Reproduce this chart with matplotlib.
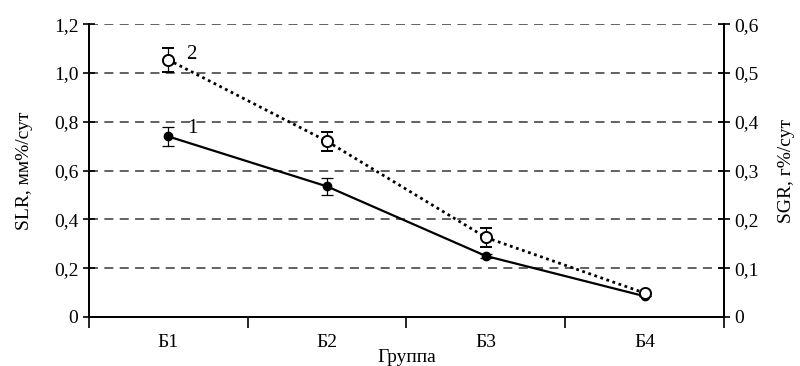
import matplotlib

matplotlib.use("Agg")

import matplotlib.pyplot as plt

plt.rcParams["font.family"] = ["Liberation Serif", "DejaVu Serif"]

groups = ["Б1", "Б2", "Б3", "Б4"]
slr = [0.74, 0.535, 0.25, 0.085]
slr_err = [0.04, 0.035, 0.01, 0.0]
sgr = [0.527, 0.36, 0.163, 0.049]
sgr_err = [0.025, 0.02, 0.02, 0.0]

fig = plt.figure(figsize=(8.0, 3.66), dpi=100)
ax = fig.add_axes([0.111, 0.134, 0.794, 0.800])
ax2 = ax.twinx()

x = list(range(len(groups)))

ax.set_ylim(0, 1.2)
ax.set_yticks([0, 0.2, 0.4, 0.6, 0.8, 1.0, 1.2])
ax.set_yticklabels(["0", "0,2", "0,4", "0,6", "0,8", "1,0", "1,2"])
ax.set_xlim(-0.5, len(groups) - 0.5)
ax.set_xticks(x)
ax.set_xticklabels(groups)
ax.set_xticks([i - 0.5 for i in range(len(groups) + 1)], minor=True)
ax.tick_params(axis="x", which="major", length=0, labelsize=14, pad=12)
ax.tick_params(axis="x", which="minor", length=8, width=1.2, direction="out")
ax.tick_params(axis="y", direction="inout", length=9, width=1.2, labelsize=14, pad=3)
for yv in [0.2, 0.4, 0.6, 0.8, 1.0, 1.2]:
    ax.axhline(yv, color="#555555", lw=1.3, ls=(0, (5, 3.5)), zorder=0)

ax2.set_ylim(0, 0.6)
ax2.set_yticks([0, 0.1, 0.2, 0.3, 0.4, 0.5, 0.6])
ax2.set_yticklabels(["0", "0,1", "0,2", "0,3", "0,4", "0,5", "0,6"])
ax2.tick_params(axis="y", direction="inout", length=9, width=1.2, labelsize=14, pad=3)

for a in (ax, ax2):
    a.spines["top"].set_visible(False)
    a.spines["left"].set_linewidth(1.3)
    a.spines["right"].set_linewidth(1.3)
    a.spines["bottom"].set_linewidth(1.3)

ax.errorbar(x, slr, yerr=slr_err, color="black", lw=1.6, marker="o", ms=6,
            capsize=4, elinewidth=0.9, capthick=0.9, zorder=3)
ax2.errorbar(x, sgr, yerr=sgr_err, color="black", lw=2.0, ls=(0, (1, 1.3)),
             marker="o", ms=8, mfc="white", mec="black", mew=1.4,
             capsize=4, elinewidth=0.9, capthick=0.9, zorder=3)

ax.text(0.12, slr[0] - 0.005, "1", fontsize=15, ha="left", va="bottom")
ax2.text(0.11, sgr[0] - 0.008, "2", fontsize=15, ha="left", va="bottom")

ax.set_ylabel("SLR, мм%/сут", fontsize=14, labelpad=15)
ax2.set_ylabel("SGR, г%/сут", fontsize=14, labelpad=14)
ax.set_xlabel("Группа", fontsize=14, labelpad=-1)

fig.savefig("out.png", dpi=100)
